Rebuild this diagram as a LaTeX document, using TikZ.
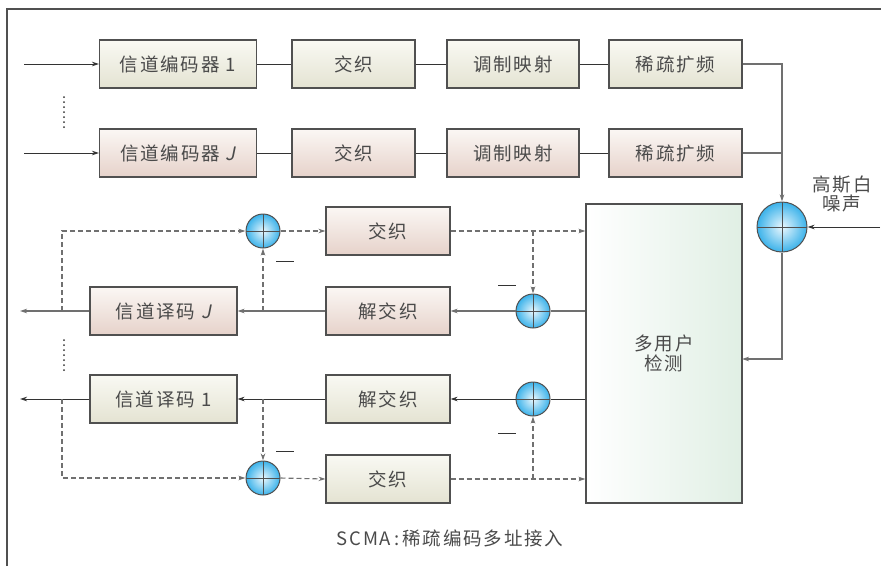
\documentclass[tikz,border=0pt]{standalone}
\usepackage{fontspec}
\usetikzlibrary{arrows.meta}
\newfontfamily\cjk[LetterSpace=10]{Noto Sans CJK SC}
\newfontfamily\cjkit[LetterSpace=10,FakeSlant=0.2]{Noto Sans CJK SC}
\definecolor{txt}{HTML}{4A4A4A}
\definecolor{bord}{HTML}{505050}
\definecolor{lin}{HTML}{333333}
\definecolor{glin}{HTML}{707070}
\definecolor{gtop}{HTML}{F9F9F3}
\definecolor{gbot}{HTML}{E4E3D2}
\definecolor{ptop}{HTML}{FBF7F4}
\definecolor{pbot}{HTML}{E6D2CA}
\definecolor{mudr}{HTML}{E0EFE4}
\definecolor{cin}{HTML}{EAF7FD}
\definecolor{cout}{HTML}{3BB2EA}
\tikzset{
  box/.style={draw=bord, line width=1.1pt, minimum height=48pt, inner sep=0pt,
    font=\cjk\fontsize{18.5}{19}\selectfont, text=txt},
  gbox/.style={box, top color=gtop, bottom color=gbot},
  pbox/.style={box, top color=ptop, bottom color=pbot},
  sumc/.style={circle, draw=bord, line width=1pt, inner sep=0pt,
    inner color=cin, outer color=cout,
    path picture={\draw[bord, line width=1pt]
      (path picture bounding box.north) -- (path picture bounding box.south)
      (path picture bounding box.west) -- (path picture bounding box.east);}},
  plain/.style={draw=lin, line width=1pt},
  arr/.style={plain, -{Stealth[length=7pt,width=4.5pt]}},
  garr/.style={arr, draw=glin, line width=1.4pt},
  dsh/.style={draw=glin, line width=1.1pt, dash pattern=on 5pt off 3pt},
  darr/.style={dsh, -{Stealth[length=7pt,width=4.5pt]}},
  lbl/.style={font=\cjk\fontsize{18.5}{19}\selectfont, text=txt, inner sep=0pt},
  minus/.style={draw=lin, line width=1pt},
  dots/.style={line width=2pt, line cap=round, dash pattern=on 0pt off 5pt, draw=lin},
}
\begin{document}
\begin{tikzpicture}[x=1pt, y=-1pt]
\useasboundingbox (0,0) rectangle (881,566);
% frame
\draw[bord, line width=1.2pt] (7,566) -- (7,9) -- (881,9);

% transmitter rows
\node[gbox, minimum width=157pt] (e1) at (178,64) {信道编码器 1};
\node[gbox, minimum width=123pt] (i1) at (353.5,64) {交织};
\node[gbox, minimum width=132pt] (m1) at (513,64) {调制映射};
\node[gbox, minimum width=133pt] (s1) at (675.5,64) {稀疏扩频};
\node[pbox, minimum width=157pt] (e2) at (178,153) {信道编码器 {\cjkit J}};
\node[pbox, minimum width=123pt] (i2) at (353.5,153) {交织};
\node[pbox, minimum width=132pt] (m2) at (513,153) {调制映射};
\node[pbox, minimum width=133pt] (s2) at (675.5,153) {稀疏扩频};

\coordinate (in1) at (24,64);
\coordinate (in2) at (24,153);
\draw[arr] (in1) -- (e1.west);
\draw[arr] (in2) -- (e2.west);
\draw[plain] (e1) -- (i1) (i1) -- (m1) (m1) -- (s1);
\draw[plain] (e2) -- (i2) (i2) -- (m2) (m2) -- (s2);
\draw[dots] (64,97) -- (64,128);

% sum and noise
\node[sumc, minimum size=50pt] (sum) at (782,227) {};
\coordinate (j1) at (782,64);
\coordinate (j2) at (782,153);
\draw[arr, draw=glin, line width=1.2pt] (s1.east) -- (j1) -- (sum.north);
\draw[plain, draw=glin, line width=1.2pt] (s2.east) -- (j2);
\coordinate (nz) at (880,227);
\draw[arr] (nz) -- (sum.east);
\node[lbl, align=center] (nzl) at (842,194) {高斯白\\噪声};

% MUD
\node[draw=bord, line width=1.1pt, minimum width=156pt, minimum height=299pt,
  left color=white, right color=mudr, inner sep=0pt, align=center,
  font=\cjk\fontsize{18.5}{20}\selectfont, text=txt] (mud) at (664,353.5) {多用户\\检测};
\coordinate (mudin) at (742,359);
\draw[arr, draw=glin, line width=1.2pt] (sum.south) |- (mudin);

% receiver boxes
\node[pbox, minimum width=124pt] (ilA) at (388,231) {交织};
\node[pbox, minimum width=124pt] (dB) at (388,311) {解交织};
\node[gbox, minimum width=124pt] (dC) at (388,399) {解交织};
\node[gbox, minimum width=124pt] (ilD) at (388,479) {交织};
\node[pbox, minimum width=147pt] (decJ) at (163.5,311) {信道译码 {\cjkit J}};
\node[gbox, minimum width=147pt] (dec1) at (163.5,399) {信道译码 1};

\node[sumc, minimum size=34pt] (cA) at (263,231) {};
\node[sumc, minimum size=34pt] (cB) at (533,311) {};
\node[sumc, minimum size=34pt] (cC) at (533,399) {};
\node[sumc, minimum size=34pt] (cD) at (263,478) {};

% row J solid path
\draw[plain, draw=glin, line width=1.4pt] (cB -| mud.west) -- (cB.east);
\draw[garr] (cB.west) -- (dB.east);
\draw[garr] (dB.west) -- (decJ.east);
\coordinate (outJ) at (20,311);
\draw[garr] (decJ.west) -- (outJ);
% row 1 solid path
\draw[plain] (cC -| mud.west) -- (cC.east);
\draw[arr] (cC.west) -- (dC.east);
\draw[arr] (dC.west) -- (dec1.east);
\coordinate (out1) at (20,399);
\draw[arr] (dec1.west) -- (out1);

% dashed feedback, user J
\coordinate (tJa) at (62,311);
\coordinate (tJb) at (263,311);
\coordinate (tJc) at (533,231);
\draw[darr] (tJa) |- (cA.west);
\draw[darr] (tJb) -- (cA.south);
\draw[darr] (cA.east) -- (ilA.west);
\draw[darr] (ilA.east) -- (ilA -| mud.west);
\draw[darr] (tJc) -- (cB.north);
% dashed feedback, user 1
\coordinate (t1a) at (62,399);
\coordinate (t1b) at (263,399);
\coordinate (t1c) at (533,479);
\draw[darr] (t1a) |- (cD.west);
\draw[darr] (t1b) -- (cD.north);
\draw[darr] (cD.east) -- (ilD.west);
\draw[darr] (ilD.east) -- (ilD -| mud.west);
\draw[darr] (t1c) -- (cC.south);

\draw[dots] (64,340) -- (64,371);

% minus signs
\draw[minus] (276,261) -- (294,261);
\draw[minus] (498,285) -- (516,285);
\draw[minus] (276,451) -- (294,451);
\draw[minus] (498,433) -- (516,433);

% caption
\node[lbl, font=\cjk\fontsize{18.5}{19}\selectfont] (cap) at (450,538) {SCMA\,:\,稀疏编码多址接入};
\end{tikzpicture}
\end{document}
